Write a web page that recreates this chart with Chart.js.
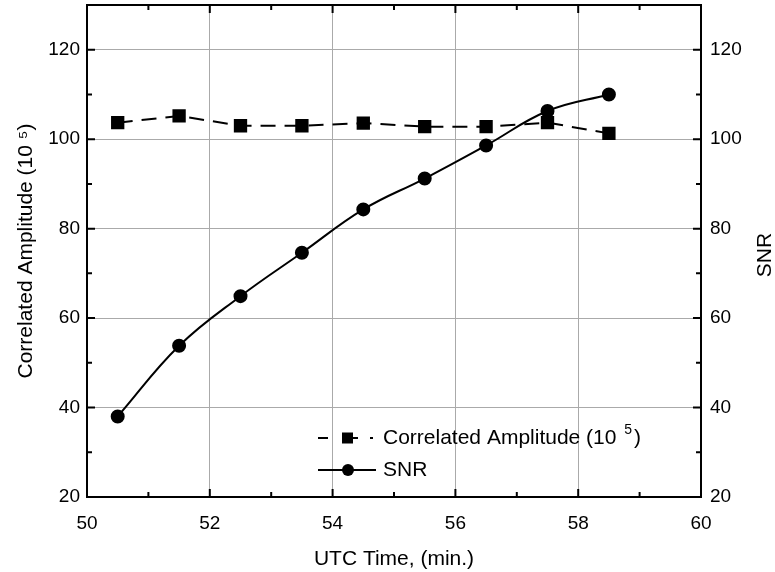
<!DOCTYPE html>
<html>
<head>
<meta charset="utf-8">
<script src="https://cdn.jsdelivr.net/npm/chart.js@4.4.1/dist/chart.umd.min.js"></script>
<style>
  html, body { margin: 0; padding: 0; background: #fff; }
  #wrap { width: 775px; height: 572px; }
</style>
</head>
<body>
<div id="wrap"><canvas id="chart"></canvas></div>
<script>
// données
const times = [50.5, 51.5, 52.5, 53.5, 54.5, 55.5, 56.5, 57.5, 58.5];
const amplitude = [103.7, 105.2, 103.0, 103.0, 103.6, 102.8, 102.8, 103.7, 101.3];
const snr = [38.0, 53.8, 64.9, 74.6, 84.3, 91.2, 98.6, 106.3, 110.0];
const xTicks = [50, 52, 54, 56, 58, 60];
const yTicks = [20, 40, 60, 80, 100, 120];

const FONT = '"Liberation Sans", Arial, Helvetica, sans-serif';

// petits traits intérieurs + cadre + titre droit + légende
const decorPlugin = {
  id: 'decor',
  afterDraw(chart) {
    const ctx = chart.ctx;
    const a = chart.chartArea;
    const xs = chart.scales.x;
    const ys = chart.scales.y;
    ctx.save();
    ctx.strokeStyle = '#000';
    ctx.lineWidth = 2;
    // ticks x (majeurs et mineurs)
    for (let v = 50; v <= 60; v += 1) {
      const px = xs.getPixelForValue(v);
      const len = (v % 2 === 0) ? 8 : 5;
      ctx.beginPath();
      ctx.moveTo(px, a.bottom); ctx.lineTo(px, a.bottom - len);
      ctx.moveTo(px, a.top); ctx.lineTo(px, a.top + len);
      ctx.stroke();
    }
    // ticks y
    for (let v = 20; v <= 130; v += 10) {
      const py = ys.getPixelForValue(v);
      const len = (v % 20 === 0) ? 8 : 5;
      ctx.beginPath();
      ctx.moveTo(a.left, py); ctx.lineTo(a.left + len, py);
      ctx.moveTo(a.right, py); ctx.lineTo(a.right - len, py);
      ctx.stroke();
    }
    // cadre
    ctx.strokeRect(a.left, a.top, a.right - a.left, a.bottom - a.top);

    // titre de l'axe droit (lu de bas en haut)
    ctx.fillStyle = '#000';
    ctx.font = '21px ' + FONT;
    ctx.textAlign = 'center';
    ctx.textBaseline = 'middle';
    ctx.save();
    ctx.translate(a.right + 64, (a.top + a.bottom) / 2 + 4);
    ctx.rotate(-Math.PI / 2);
    ctx.fillText('SNR', 0, 0);
    ctx.restore();

    // légende
    const lx = a.left + 231;
    const r1 = a.bottom - 59;
    const r2 = a.bottom - 27;
    ctx.lineWidth = 2;
    ctx.beginPath();
    ctx.moveTo(lx, r1); ctx.lineTo(lx + 10, r1);
    ctx.moveTo(lx + 24, r1); ctx.lineTo(lx + 40, r1);
    ctx.moveTo(lx + 52, r1); ctx.lineTo(lx + 55, r1);
    ctx.stroke();
    ctx.fillRect(lx + 24, r1 - 5.5, 11, 11);
    ctx.beginPath();
    ctx.moveTo(lx, r2); ctx.lineTo(lx + 58, r2);
    ctx.stroke();
    ctx.beginPath();
    ctx.arc(lx + 30, r2, 6, 0, Math.PI * 2);
    ctx.fill();
    ctx.textAlign = 'left';
    ctx.font = '21px ' + FONT;
    ctx.fillText('Correlated Amplitude (10', lx + 65, r1);
    const w = ctx.measureText('Correlated Amplitude (10 ').width;
    ctx.font = '14px ' + FONT;
    ctx.fillText('5', lx + 65 + w + 2, r1 - 8);
    const w5 = ctx.measureText('5').width;
    ctx.font = '21px ' + FONT;
    ctx.fillText(')', lx + 65 + w + w5 + 4, r1);
    ctx.fillText('SNR', lx + 65, r2);
    ctx.restore();
  }
};

const noPadY = s => { s.paddingTop = 0; s.paddingBottom = 0; };

new Chart(document.getElementById('chart').getContext('2d'), {
  type: 'line',
  data: {
    datasets: [{
      label: 'Correlated Amplitude (10 5)',
      data: times.map((t, i) => ({ x: t, y: amplitude[i] })),
      yAxisID: 'y',
      borderColor: '#000',
      backgroundColor: '#000',
      borderWidth: 2,
      borderDash: [15, 9],
      pointStyle: 'rect',
      pointRadius: 8,
      pointHoverRadius: 8,
      tension: 0
    }, {
      label: 'SNR',
      data: times.map((t, i) => ({ x: t, y: snr[i] })),
      yAxisID: 'y1',
      borderColor: '#000',
      backgroundColor: '#000',
      borderWidth: 2,
      pointStyle: 'circle',
      pointRadius: 6,
      pointHoverRadius: 6,
      tension: 0.4
    }]
  },
  options: {
    responsive: true,
    maintainAspectRatio: false,
    animation: false,
    layout: { autoPadding: false, padding: { top: 5, left: 0, right: 0, bottom: 0 } },
    plugins: {
      legend: { display: false },
      tooltip: { enabled: false }
    },
    scales: {
      x: {
        type: 'linear',
        min: 50,
        max: 60,
        afterBuildTicks: s => { s.ticks = xTicks.map(v => ({ value: v })); },
        afterFit: s => { s.height = 75; s.paddingLeft = 0; s.paddingRight = 0; },
        grid: { color: '#aaa', lineWidth: 1, drawTicks: false },
        border: { display: false },
        ticks: {
          color: '#000',
          padding: 15,
          maxRotation: 0,
          font: { family: FONT, size: 19 }
        },
        title: {
          display: true,
          text: 'UTC Time, (min.)',
          color: '#000',
          padding: { top: 4, bottom: 0 },
          font: { family: FONT, size: 21 }
        }
      },
      y: {
        position: 'left',
        min: 20,
        max: 130,
        afterBuildTicks: s => { s.ticks = yTicks.map(v => ({ value: v })); },
        afterFit: s => { s.width = 87; noPadY(s); },
        grid: { color: '#aaa', lineWidth: 1, drawTicks: false },
        border: { display: false },
        ticks: {
          color: '#000',
          padding: 7,
          font: { family: FONT, size: 19 }
        },
        title: {
          display: true,
          text: 'Correlated Amplitude (10 \u2075)',
          color: '#000',
          padding: { top: 14, bottom: 0 },
          font: { family: FONT, size: 21 }
        }
      },
      y1: {
        position: 'right',
        min: 20,
        max: 130,
        afterBuildTicks: s => { s.ticks = yTicks.map(v => ({ value: v })); },
        afterFit: s => { s.width = 74; noPadY(s); },
        grid: { display: false, drawTicks: false },
        border: { display: false },
        ticks: {
          color: '#000',
          padding: 9,
          font: { family: FONT, size: 19 }
        }
      }
    }
  },
  plugins: [decorPlugin]
});
</script>
</body>
</html>
